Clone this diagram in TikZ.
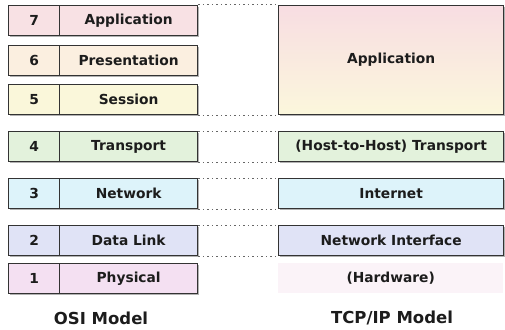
\documentclass[tikz,border=0pt]{standalone}
\usepackage{fontspec}
\setmainfont{DejaVu Sans}
\usetikzlibrary{shadows}
\definecolor{c7}{HTML}{F8E1E4}
\definecolor{c6}{HTML}{FBEFE0}
\definecolor{c5}{HTML}{FAF7DA}
\definecolor{c4}{HTML}{E3F2DC}
\definecolor{c3}{HTML}{DDF3FA}
\definecolor{c2}{HTML}{E0E3F6}
\definecolor{c1}{HTML}{F4E0F2}
\definecolor{hw}{HTML}{FBF3F8}
\definecolor{apptop}{HTML}{F8DDE2}
\definecolor{appbot}{HTML}{FBF7DC}
\definecolor{ink}{HTML}{1C1C1C}
\begin{document}
\begin{tikzpicture}[x=1pt,y=-1pt,
  layerbox/.style={draw=black!80, line width=1.3pt, minimum height=30pt,
    inner sep=0pt, anchor=north west, text=ink,
    font=\bfseries\fontsize{13.8}{16}\selectfont,
    drop shadow={shadow xshift=1.3pt, shadow yshift=-1.3pt, opacity=0.3, fill=black}},
  numcell/.style={layerbox, minimum width=51pt},
  namecell/.style={layerbox, minimum width=138pt},
  tcpbox/.style={layerbox, minimum width=225pt},
  dotline/.style={draw=black!60, line width=1pt, dash pattern=on 1.5pt off 3pt},
  caption/.style={text=ink, font=\bfseries\fontsize{16.5}{19}\selectfont}]
\useasboundingbox (0,0) rectangle (505,329);

% OSI reference model layers
\node[numcell, fill=c7] (n7) at (8,5) {7};
\node[namecell, fill=c7] (l7) at (59,5) {Application};
\node[numcell, fill=c6] (n6) at (8,45) {6};
\node[namecell, fill=c6] (l6) at (59,45) {Presentation};
\node[numcell, fill=c5] (n5) at (8,84) {5};
\node[namecell, fill=c5] (l5) at (59,84) {Session};
\node[numcell, fill=c4] (n4) at (8,131) {4};
\node[namecell, fill=c4] (l4) at (59,131) {Transport};
\node[numcell, fill=c3] (n3) at (8,178) {3};
\node[namecell, fill=c3] (l3) at (59,178) {Network};
\node[numcell, fill=c2] (n2) at (8,225) {2};
\node[namecell, fill=c2] (l2) at (59,225) {Data Link};
\node[numcell, fill=c1] (n1) at (8,263) {1};
\node[namecell, fill=c1] (l1) at (59,263) {Physical};

% TCP/IP model layers
\node[tcpbox, minimum height=109pt, top color=apptop, bottom color=appbot] (tapp) at (278,5) {Application};
\node[tcpbox, fill=c4] (ttr) at (278,131) {(Host-to-Host) Transport};
\node[tcpbox, fill=c3] (tin) at (278,178) {Internet};
\node[tcpbox, fill=c2] (tni) at (278,225) {Network Interface};
\node[anchor=north west, minimum width=225pt, minimum height=30pt, inner sep=0pt,
      fill=hw, text=ink, font=\bfseries\fontsize{13.8}{16}\selectfont] (thw) at (278,263) {(Hardware)};

% dotted correspondence lines
\draw[dotline] (l7.north east) -- (tapp.north west);
\draw[dotline] (l5.south east) -- (tapp.south west);
\draw[dotline] (l4.north east) -- (ttr.north west);
\draw[dotline] (l4.south east) -- (ttr.south west);
\draw[dotline] (l3.north east) -- (tin.north west);
\draw[dotline] (l3.south east) -- (tin.south west);
\draw[dotline] (l2.north east) -- (tni.north west);
\draw[dotline] (l2.south east) -- (tni.south west);

% captions
\node[caption] (osi) at (101,318) {OSI Model};
\node[caption] (tcp) at (392,318) {TCP/IP Model};
\end{tikzpicture}
\end{document}
